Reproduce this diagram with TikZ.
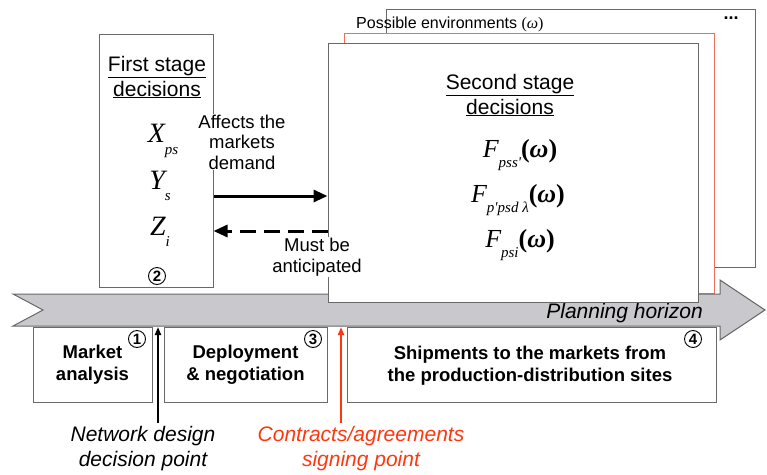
\documentclass[tikz,border=0pt]{standalone}
\usepackage{fontspec}
\setmainfont{Liberation Sans}
\newfontfamily\tms{Liberation Serif}
\usetikzlibrary{arrows.meta}
\definecolor{bandfill}{RGB}{200,200,205}
\definecolor{edgegray}{RGB}{105,105,105}
\definecolor{salmon}{RGB}{240,110,90}
\definecolor{redtxt}{RGB}{255,55,15}
\newcommand{\mvar}[2]{{\tms\itshape #1}\raisebox{-0.4em}{\fontsize{15}{15}\selectfont\tms\itshape #2}}
\newcommand{\omg}{{\tms\bfseries(\textit{ω})}}
\newcommand{\omgplain}{{\tms(\textit{ω})}}
\begin{document}
\begin{tikzpicture}[x=1pt,y=-1pt,
  box/.style={draw=edgegray, line width=1pt, fill=white, inner sep=0pt},
  num/.style={draw=black, circle, line width=0.9pt, inner sep=0pt, minimum size=17pt, font=\fontsize{15}{15}\selectfont\bfseries},
  steptxt/.style={align=center, font=\fontsize{18.5}{22}\selectfont\bfseries},
  plain/.style={align=center, font=\fontsize{18.5}{20.5}\selectfont, fill=white, inner sep=1pt},
  head/.style={align=center, font=\fontsize{21}{25}\selectfont},
  ital/.style={align=center, font=\fontsize{21}{25}\selectfont\itshape},
  var/.style={font=\fontsize{28}{30}\selectfont, inner sep=0pt},
  fvar/.style={font=\fontsize{26}{28}\selectfont, inner sep=0pt},
  bigtip/.style={-{Triangle[length=14pt,width=12pt]}, line width=3pt},
  smalltip/.style={-{Triangle[length=8pt,width=6pt]}, line width=2pt}]
\path[use as bounding box] (0,0) rectangle (767,474);

% stacked environment boxes
\node[box, minimum width=369pt, minimum height=258pt] (back) at (570.5,138) {};
\node[box, draw=salmon, minimum width=370pt, minimum height=260pt] (redbox) at (529,163) {};
\node[anchor=west, inner sep=0pt, font=\fontsize{16}{16}\selectfont] (poss) at (356,24) {Possible environments \omgplain};
\node[inner sep=0pt, font=\fontsize{18}{18}\selectfont\bfseries] (dots) at (731,18) {...};

% planning horizon band
\draw[draw=edgegray, fill=bandfill, line width=1pt] (13,294) -- (720,294) -- (720,280) -- (765,310) -- (720,340) -- (720,326) -- (13,326) -- (43,310) -- cycle;
\node[anchor=east, inner sep=0pt, font=\fontsize{21}{21}\selectfont\itshape] (ph) at (703,313) {Planning horizon};

% front boxes
\node[box, minimum width=370pt, minimum height=259pt] (front) at (513,172.5) {};
\node[box, minimum width=114pt, minimum height=253pt] (first) at (156,160.5) {};

\node[head] (fs) at (157,77) {\underline{First stage}\\\underline{decisions}};
\node[var] (x) at (163,141) {\mvar{X}{ps}};
\node[var] (y) at (160,186) {\mvar{Y}{s}};
\node[var] (z) at (160,232) {\mvar{Z}{i}};
\node[num] (n2) at (157,276) {2};

\node[head] (ss) at (510,95) {\underline{Second stage}\\\underline{decisions}};
\node[fvar] (f1) at (520,155) {\mvar{F}{pss'}\omg};
\node[fvar] (f2) at (518,200) {\mvar{F}{p'psd λ}\omg};
\node[fvar] (f3) at (520,245) {\mvar{F}{psi}\omg};

% arrows between stages
\coordinate (ya) at (0,196);
\coordinate (yb) at (0,231);
\draw[bigtip] (first.east |- ya) -- (front.west |- ya);
\draw[bigtip, dash pattern=on 16pt off 8pt] (front.west |- yb) -- (first.east |- yb);
\node[plain] (aff) at (242,142) {Affects the\\markets\\demand};
\node[plain] (must) at (317,257) {Must be\\anticipated};

% bottom steps
\node[box, minimum width=119pt, minimum height=75pt] (s1) at (92.5,364.5) {};
\node[steptxt] at (s1) {Market\\analysis};
\node[num] (n1) at (137,339) {1};
\node[box, minimum width=163pt, minimum height=75pt] (s3) at (245.5,364.5) {};
\node[steptxt] at (s3) {Deployment\\\& negotiation};
\node[num] (n3) at (313,339) {3};
\node[box, minimum width=369pt, minimum height=75pt] (s4) at (531.5,364.5) {};
\node[steptxt] at (530,366) {Shipments to the markets from\\the production-distribution sites};
\node[num] (n4) at (693,339) {4};

% decision points
\node[ital] (ndp) at (143,449) {Network design\\decision point};
\node[ital, text=redtxt] (csp) at (361,449) {Contracts/agreements\\signing point};
\coordinate (b1) at (158,327);
\coordinate (b2) at (341,327);
\draw[smalltip] (b1 |- ndp.north) -- (b1);
\draw[smalltip, draw=redtxt, fill=redtxt] (b2 |- csp.north) -- (b2);
\end{tikzpicture}
\end{document}
